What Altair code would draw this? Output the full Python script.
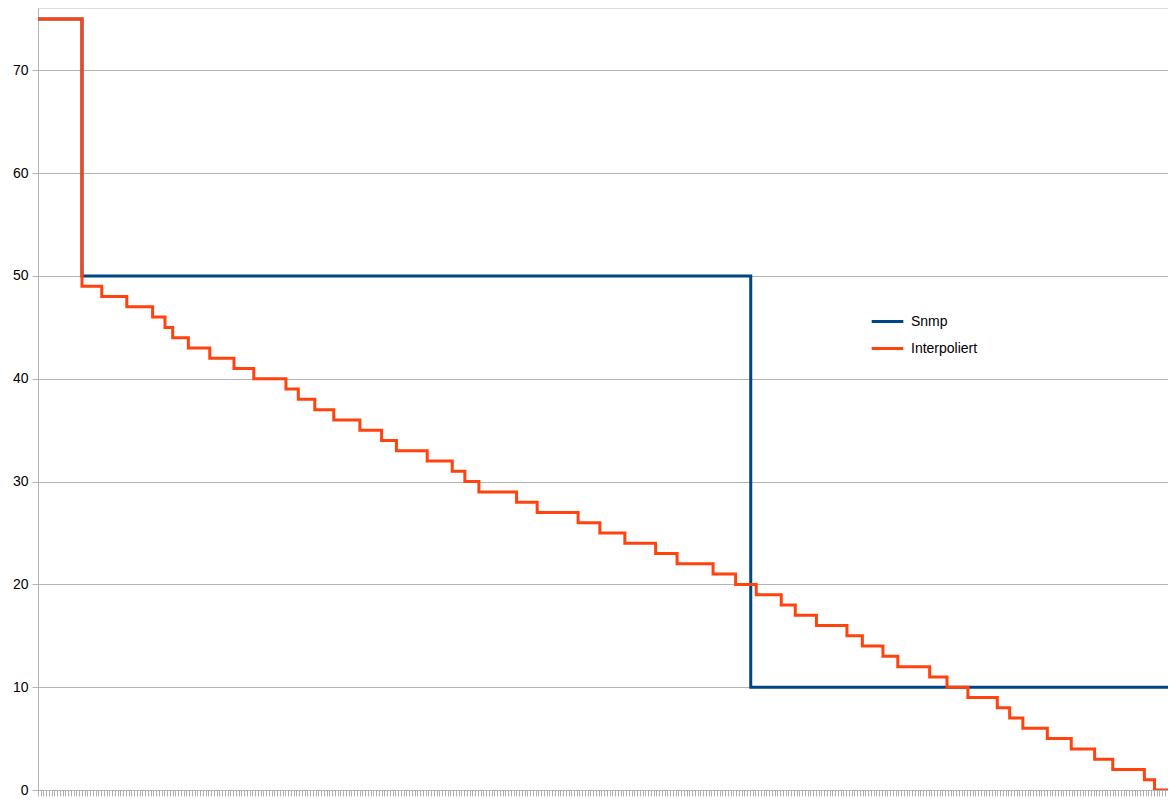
import altair as alt
import pandas as pd

# Sample index positions where each series changes value (step-after)
snmp_x = [0, 16, 259.3, 414]
snmp_y = [75, 50, 10, 10]

interp_x = [0, 16.0, 23.2, 32.3, 41.7, 46.2, 49.0, 54.7, 62.5, 71.3, 78.5, 90.2, 94.7,
            100.7, 107.6, 117.1, 125.0, 130.4, 141.6, 150.7, 155.3, 160.4, 174.1, 181.6,
            196.5, 204.4, 213.5, 224.7, 232.5, 245.6, 253.8, 261.3, 270.4, 275.5, 283.2,
            294.3, 299.9, 307.4, 312.8, 324.4, 330.7, 338.3, 349.0, 353.5, 358.3, 367.2,
            375.9, 384.4, 391.0, 402.5, 406.2, 414]
interp_y = [75, 49, 48, 47, 46, 45, 44, 43, 42, 41, 40, 39, 38,
            37, 36, 35, 34, 33, 32, 31, 30, 29, 28, 27,
            26, 25, 24, 23, 22, 21, 20, 19, 18, 17, 16,
            15, 14, 13, 12, 11, 10, 9, 8, 7, 6, 5,
            4, 3, 2, 1, 0, 0]

series_names = ["Snmp", "Interpoliert"]
series_colors = ["#004586", "#ff420e"]
y_ticks = [0, 10, 20, 30, 40, 50, 60, 70]
n_ticks = 414

df_snmp = pd.DataFrame({"x": snmp_x, "y": snmp_y, "series": "Snmp"})
df_interp = pd.DataFrame({"x": interp_x, "y": interp_y, "series": "Interpoliert"})

color = alt.Color(
    "series:N",
    scale=alt.Scale(domain=series_names, range=series_colors),
    legend=alt.Legend(
        title=None, orient="none", legendX=832, legendY=296,
        symbolType="stroke", symbolStrokeWidth=3, symbolSize=1000,
        labelFont="Liberation Sans", labelFontSize=14, labelColor="#000000",
        labelOffset=6, rowPadding=2,
    ),
)

x_enc = alt.X(
    "x:Q",
    scale=alt.Scale(domain=[0, 411.1], nice=False, zero=False),
    axis=alt.Axis(
        title=None, labels=False, grid=False, values=list(range(0, n_ticks + 1)),
        tickSize=6, tickColor="#b3b3b3", domainColor="#b3b3b3", tickWidth=1,
    ),
)
y_enc = alt.Y(
    "y:Q",
    scale=alt.Scale(domain=[0, 76.07], nice=False),
    axis=alt.Axis(
        title=None, values=y_ticks, grid=True, gridColor="#b3b3b3", gridWidth=1,
        tickSize=6, tickColor="#b3b3b3", domainColor="#b3b3b3",
        labelFont="Liberation Sans", labelFontSize=14, labelColor="#000000", labelPadding=4,
    ),
)

blue = alt.Chart(df_snmp).mark_line(interpolate="step-after", strokeWidth=3, clip=True).encode(
    x=x_enc, y=y_enc, color=color
)
orange = alt.Chart(df_interp).mark_line(interpolate="step-after", strokeWidth=3, clip=True).encode(
    x=x_enc, y=y_enc, color=color
)

chart = alt.layer(blue, orange).properties(
    width=1130, height=782,
    padding={"left": 30, "top": 0, "right": 0, "bottom": 7},
    autosize=alt.AutoSizeParams(type="none"),
).configure_view(stroke=None).configure(background="#ffffff")

chart.save("out.html", embed_options={"renderer": "svg", "actions": False})
